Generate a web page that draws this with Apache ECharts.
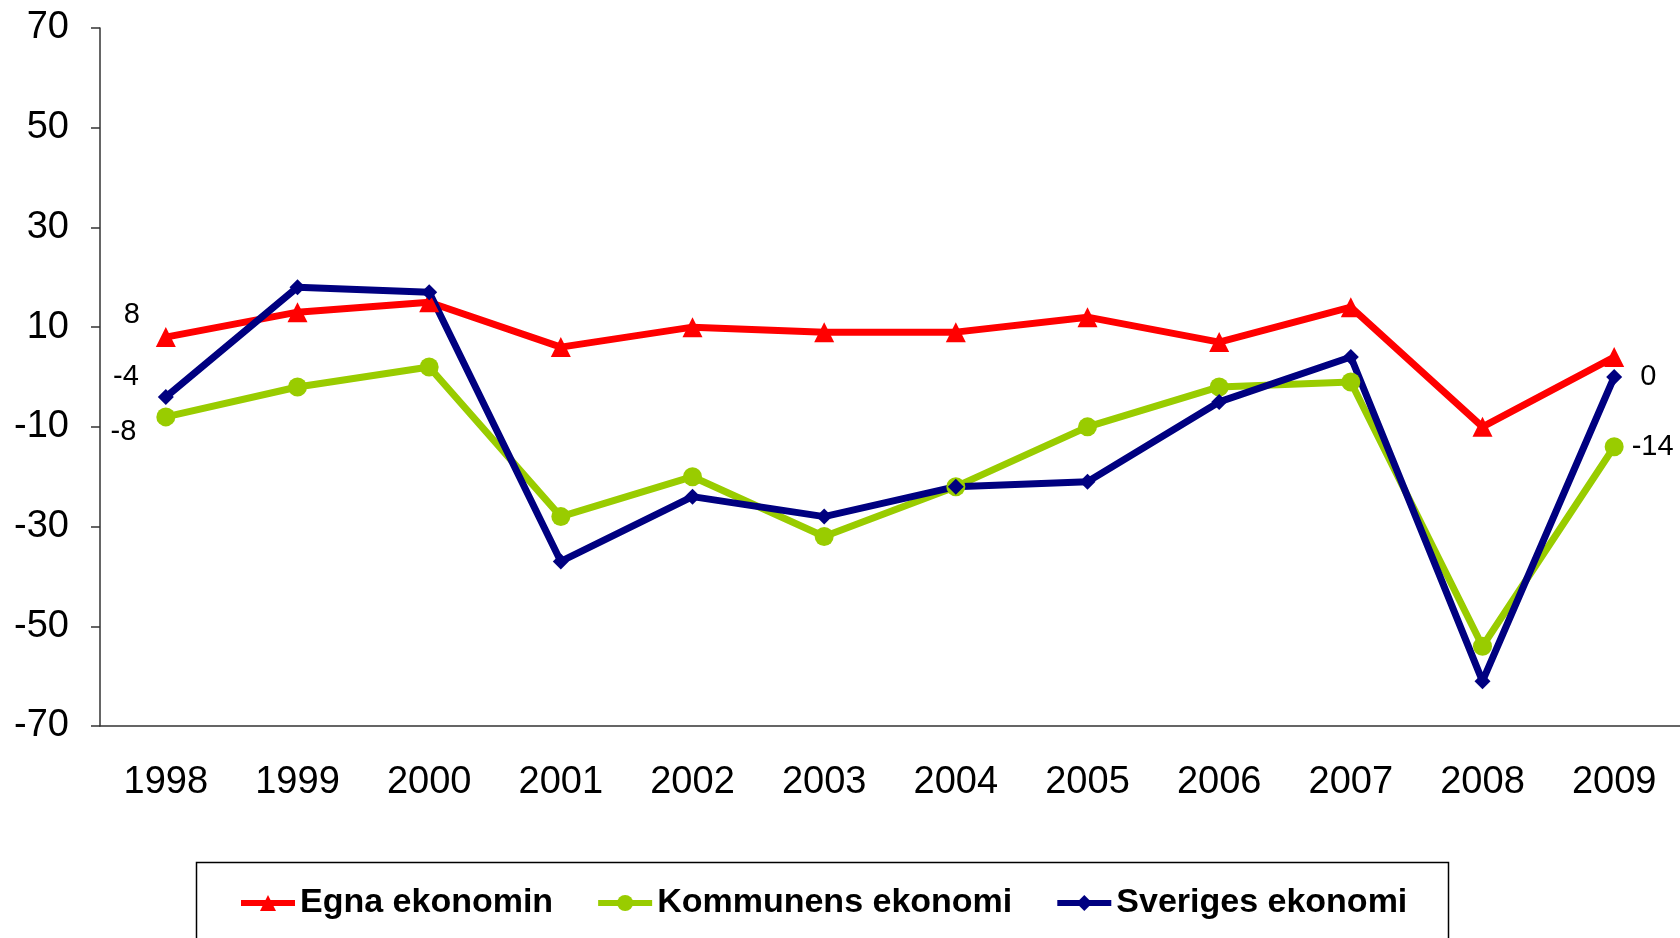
<!DOCTYPE html>
<html>
<head>
<meta charset="utf-8">
<script src="https://cdn.jsdelivr.net/npm/echarts@6/dist/echarts.min.js"></script>
<style>
html, body { margin: 0; padding: 0; background: #fff; }
#main { width: 1680px; height: 938px; }
</style>
</head>
<body>
<div id="main"></div>
<script>
var years = ['1998', '1999', '2000', '2001', '2002', '2003', '2004', '2005', '2006', '2007', '2008', '2009'];
var egna = [8, 13, 15, 6, 10, 9, 9, 12, 7, 14, -10, 4];
var kommunens = [-8, -2, 2, -28, -20, -32, -22, -10, -2, -1, -54, -14];
var sveriges = [-4, 18, 17, -37, -24, -28, -22, -21, -5, 4, -61, 0];
var yTicks = [-70, -50, -30, -10, 10, 30, 50, 70];
var seriesNames = ['Egna ekonomin', 'Kommunens ekonomi', 'Sveriges ekonomi'];

var FONT = '"Liberation Sans", Arial, sans-serif';

// only the first and last points carry a value label, like the original
function withLabels(values, labels) {
    return values.map(function (v, i) {
        if (labels[i]) {
            return {
                value: v,
                label: Object.assign({
                    show: true,
                    fontSize: 29,
                    color: '#000',
                    fontFamily: FONT
                }, labels[i])
            };
        }
        return v;
    });
}

function lineSeries(name, values, color, symbol, size, labels) {
    return {
        name: name,
        type: 'line',
        data: withLabels(values, labels),
        symbol: symbol,
        symbolSize: size,
        lineStyle: { color: color, width: 7 },
        itemStyle: { color: color },
        emphasis: { disabled: true }
    };
}

var last = years.length - 1;
var egnaLabels = {};
egnaLabels[0] = { position: 'left', distance: 16, offset: [0, -22] };
var kommLabels = {};
kommLabels[0] = { position: 'left', distance: 20, offset: [0, 15] };
kommLabels[last] = { position: 'right', distance: 8 };
var sverLabels = {};
sverLabels[0] = { position: 'left', distance: 19, offset: [0, -20] };
sverLabels[last] = { position: 'right', distance: 18 };

var chart = echarts.init(document.getElementById('main'));

chart.setOption({
    animation: false,
    textStyle: { fontFamily: FONT },
    grid: {
        left: 100,
        width: 1588,
        top: 28,
        bottom: 212,
        containLabel: false
    },
    legend: {
        data: seriesNames,
        left: 238,
        top: 886,
        padding: 0,
        itemGap: 42,
        itemWidth: 54,
        itemHeight: 20,
        lineStyle: { width: 6 },
        textStyle: { fontSize: 34, fontWeight: 'bold', color: '#000', fontFamily: FONT }
    },
    graphic: [{
        type: 'rect',
        left: 194,
        top: 860,
        z: -1,
        shape: { width: 1252, height: 120 },
        style: { fill: 'none', stroke: '#000', lineWidth: 1.5 }
    }],
    xAxis: {
        type: 'category',
        data: years,
        boundaryGap: true,
        axisLine: { onZero: false, lineStyle: { color: '#333', width: 1.5 } },
        axisTick: { length: 10, lineStyle: { color: '#333', width: 1.5 } },
        axisLabel: { fontSize: 38, color: '#000', margin: 38, fontFamily: FONT }
    },
    yAxis: {
        type: 'value',
        min: -70,
        max: 70,
        axisLine: { show: true, lineStyle: { color: '#333', width: 1.5 } },
        axisTick: { show: true, length: 9, customValues: yTicks, lineStyle: { color: '#333', width: 1.5 } },
        axisLabel: { customValues: yTicks, fontSize: 38, color: '#000', margin: 31, fontFamily: FONT },
        splitLine: { show: false }
    },
    series: [
        lineSeries(seriesNames[0], egna, '#ff0000', 'triangle', 20, egnaLabels),
        lineSeries(seriesNames[1], kommunens, '#99cc00', 'circle', 19, kommLabels),
        lineSeries(seriesNames[2], sveriges, '#000080', 'diamond', 16, sverLabels)
    ]
});
</script>
</body>
</html>
